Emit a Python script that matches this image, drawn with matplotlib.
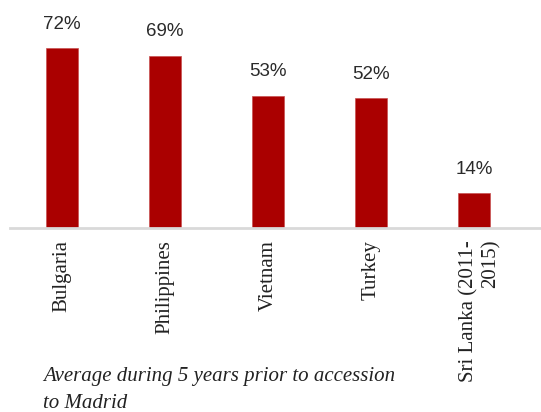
import numpy as np
import matplotlib.pyplot as plt
import matplotlib.transforms as mtransforms

#--- DATA ---#
countries = ["Bulgaria", "Philippines", "Vietnam", "Turkey", "Sri Lanka (2011-\n2015)"]
shares = [72, 69, 53, 52, 14]
note = "Average during 5 years prior to accession\nto Madrid"

bar_color = "#aa0000"

#--- PLOT ---#
fig = plt.figure(figsize=(5.41, 4.12), dpi=100)
ax = fig.add_axes([10/541, 1 - 228/412, 1 - 10/541, 228/412])

x = np.arange(len(countries))
ax.bar(x, shares, width=0.31, color=bar_color, edgecolor="#c85050", linewidth=0.5, zorder=2)

for xi, v in zip(x, shares):
    ax.annotate("%d%%" % v, (xi, v), xytext=(0, 19), textcoords="offset pixels",
                ha="center", va="baseline", fontsize=13.5, color="#2a2a2a",
                family="Liberation Sans")

ax.set_xlim(-0.505, 4.65)
ax.set_ylim(0, 91.2)

for s in ["top", "right", "left"]:
    ax.spines[s].set_visible(False)
ax.spines["bottom"].set_color("#d9d9d9")
ax.spines["bottom"].set_linewidth(2)
ax.set_yticks([])

ax.set_xticks(x)
ax.set_xticklabels(countries, rotation=90, fontsize=15, family="Liberation Serif", color="#222222")
ax.tick_params(axis="x", length=0, pad=8.5)

# last label: lines aligned at their end, nudged right
last = ax.get_xticklabels()[-1]
last.set_multialignment("right")
last.set_transform(last.get_transform() + mtransforms.ScaledTranslation(6/100, 0, fig.dpi_scale_trans))

fig.text(43/541, 1 - 367/412, note, ha="left", va="top", fontsize=15, style="italic",
         family="Liberation Serif", color="#222222", linespacing=1.55)

plt.savefig("out.png", dpi=100)
plt.close()
